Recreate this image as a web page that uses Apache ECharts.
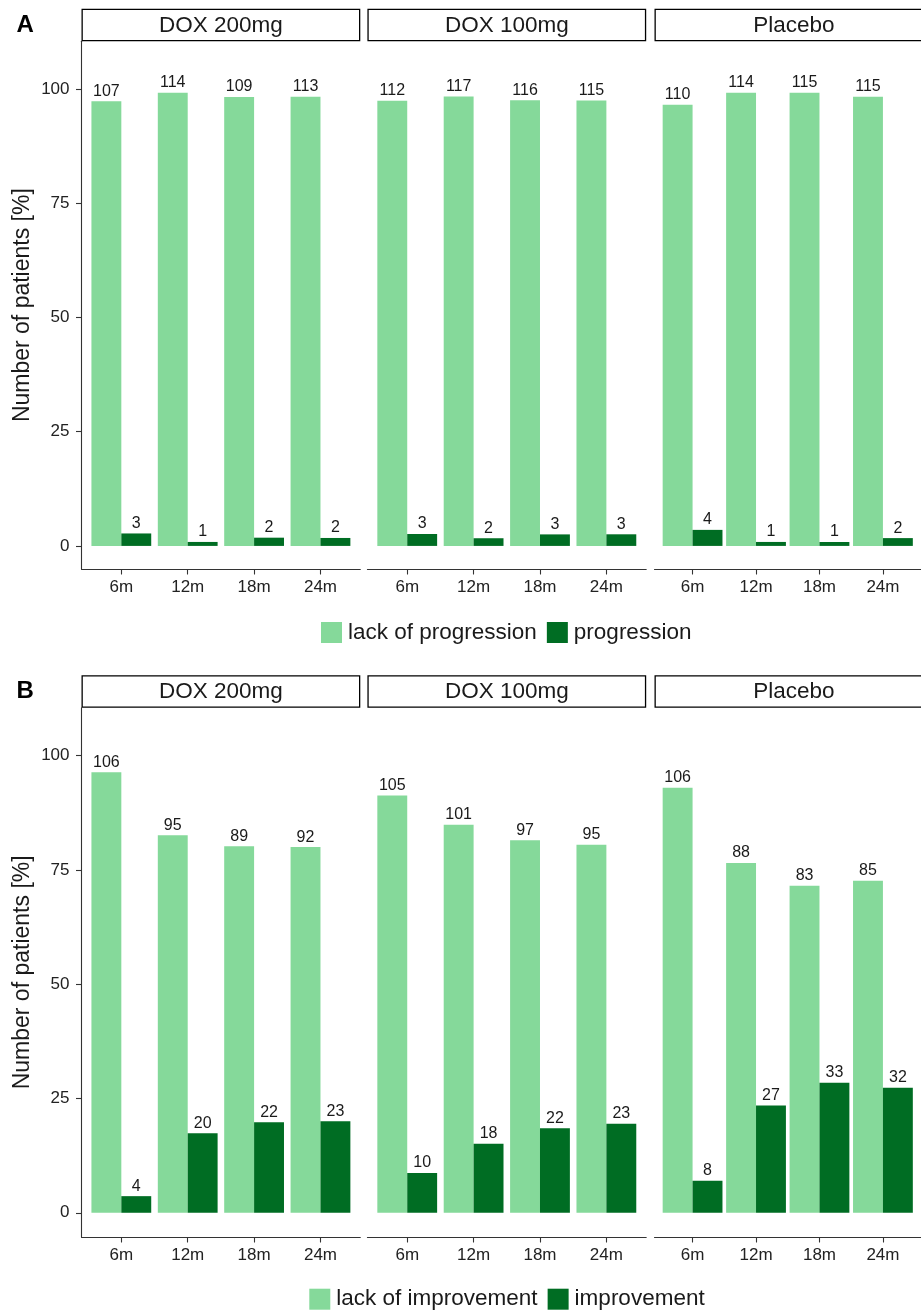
<!DOCTYPE html>
<html>
<head>
<meta charset="utf-8">
<script src="https://cdn.jsdelivr.net/npm/echarts@6/dist/echarts.min.js"></script>
<style>
  html, body { margin: 0; padding: 0; background: #ffffff; }
  #chart { width: 921px; height: 1311px; }
</style>
</head>
<body>
<div id="chart"></div>
<script>
// Visit time points and treatment arms
const timepoints = ['6m', '12m', '18m', '24m'];
const arms = ['DOX 200mg', 'DOX 100mg', 'Placebo'];

// Panel A: patient counts, one row per arm, one column per time point
const noProgression = [[107, 114, 109, 113], [112, 117, 116, 115], [110, 114, 115, 115]];
const progression   = [[3, 1, 2, 2],         [3, 2, 3, 3],         [4, 1, 1, 2]];

// Panel B: patient counts, one row per arm, one column per time point
const noImprovement = [[106, 95, 89, 92], [105, 101, 97, 95], [106, 88, 83, 85]];
const improvement   = [[4, 20, 22, 23],   [10, 18, 22, 23],   [8, 27, 33, 32]];

// Y axis tick values (percent)
const yTicks = [0, 25, 50, 75, 100];

const FONT = '"Liberation Sans", Arial, Helvetica, sans-serif';
const LIGHT = '#85D99A';
const DARK = '#006D23';
const AXIS = '#333333';
const TEXT = '#1a1a1a';

const panels = [
  { letter: 'A', letterY: 25, top: 41.3, height: 527.7, yMin: -5.05, yMax: 110.4, stripTop: 8.7,
    legendTop: 621, legendLeft: 321,
    names: ['lack of progression', 'progression'], counts: [noProgression, progression] },
  { letter: 'B', letterY: 691.3, top: 707.7, height: 529.3, yMin: -5.3, yMax: 110.5, stripTop: 675.3,
    legendTop: 1287.7, legendLeft: 309.3,
    names: ['lack of improvement', 'improvement'], counts: [noImprovement, improvement] }
];
const facetLeft = [81.5, 367.4, 654.5];
const facetWidth = 278.8;

const grid = [], xAxis = [], yAxis = [], series = [], graphic = [], legend = [];

panels.forEach((p, pi) => {
  graphic.push({
    type: 'text', z: 100,
    style: { text: p.letter, x: 16.5, y: p.letterY, align: 'left', verticalAlign: 'middle',
             fontFamily: FONT, fontSize: 24, fontWeight: 'bold', fill: '#000' }
  });

  legend.push({
    data: p.names, left: p.legendLeft, top: p.legendTop, padding: 0,
    icon: 'rect', itemWidth: 21, itemHeight: 21, itemGap: 10, selectedMode: false,
    textStyle: { fontFamily: FONT, fontSize: 22.5, color: TEXT, padding: [0, 0, 0, 1] }
  });

  arms.forEach((arm, f) => {
    const idx = pi * 3 + f;
    const left = facetLeft[f];
    grid.push({ left: left, top: p.top, width: facetWidth, height: p.height, containLabel: false });

    xAxis.push({
      type: 'value', gridIndex: idx, min: -0.6, max: 3.6,
      axisLine: { show: true, onZero: false, lineStyle: { color: AXIS, width: 1.1 } },
      axisTick: { show: true, customValues: [0, 1, 2, 3], length: 5.5, lineStyle: { color: AXIS, width: 1.1 } },
      axisLabel: { show: true, customValues: [0, 1, 2, 3], formatter: v => timepoints[Math.round(v)],
                   fontFamily: FONT, fontSize: 17, color: '#222', margin: 10 },
      splitLine: { show: false }
    });

    const first = f === 0;
    yAxis.push({
      type: 'value', gridIndex: idx, min: p.yMin, max: p.yMax,
      name: first ? 'Number of patients [%]' : '',
      nameLocation: 'middle', nameGap: 47,
      nameTextStyle: { fontFamily: FONT, fontSize: 23, color: TEXT },
      axisLine: { show: first, onZero: false, lineStyle: { color: AXIS, width: 1.1 } },
      axisTick: { show: first, customValues: yTicks, length: 5.5, lineStyle: { color: AXIS, width: 1.1 } },
      axisLabel: { show: first, customValues: yTicks, fontFamily: FONT, fontSize: 17, color: '#222', margin: 12 },
      splitLine: { show: false }
    });

    // Facet strip
    graphic.push({
      type: 'rect', z: 100,
      shape: { x: left + 0.65, y: p.stripTop + 0.65, width: facetWidth - 1.3, height: p.top - p.stripTop - 1.3 },
      style: { fill: '#ffffff', stroke: '#000000', lineWidth: 1.3 }
    });
    graphic.push({
      type: 'text', z: 101,
      style: { text: arm, x: left + facetWidth / 2, y: (p.stripTop + p.top) / 2 + 0.5,
               align: 'center', verticalAlign: 'middle', fontFamily: FONT, fontSize: 22.5, fill: TEXT }
    });

    [0, 1].forEach(s => {
      const own = p.counts[s][f];
      const other = p.counts[1 - s][f];
      series.push({
        type: 'bar', name: p.names[s], xAxisIndex: idx, yAxisIndex: idx,
        barWidth: 29.9, barGap: '0%',
        itemStyle: { color: s === 0 ? LIGHT : DARK },
        data: timepoints.map((t, i) => [i, own[i] / (own[i] + other[i]) * 100]),
        label: {
          show: true, position: 'top', distance: 2,
          fontFamily: FONT, fontSize: 16, color: TEXT,
          formatter: prm => String(own[prm.dataIndex])
        },
        emphasis: { disabled: true },
        animation: false
      });
    });
  });
});

const chart = echarts.init(document.getElementById('chart'));
chart.setOption({
  backgroundColor: '#ffffff',
  animation: false,
  grid, xAxis, yAxis, series, legend, graphic
});
</script>
</body>
</html>
